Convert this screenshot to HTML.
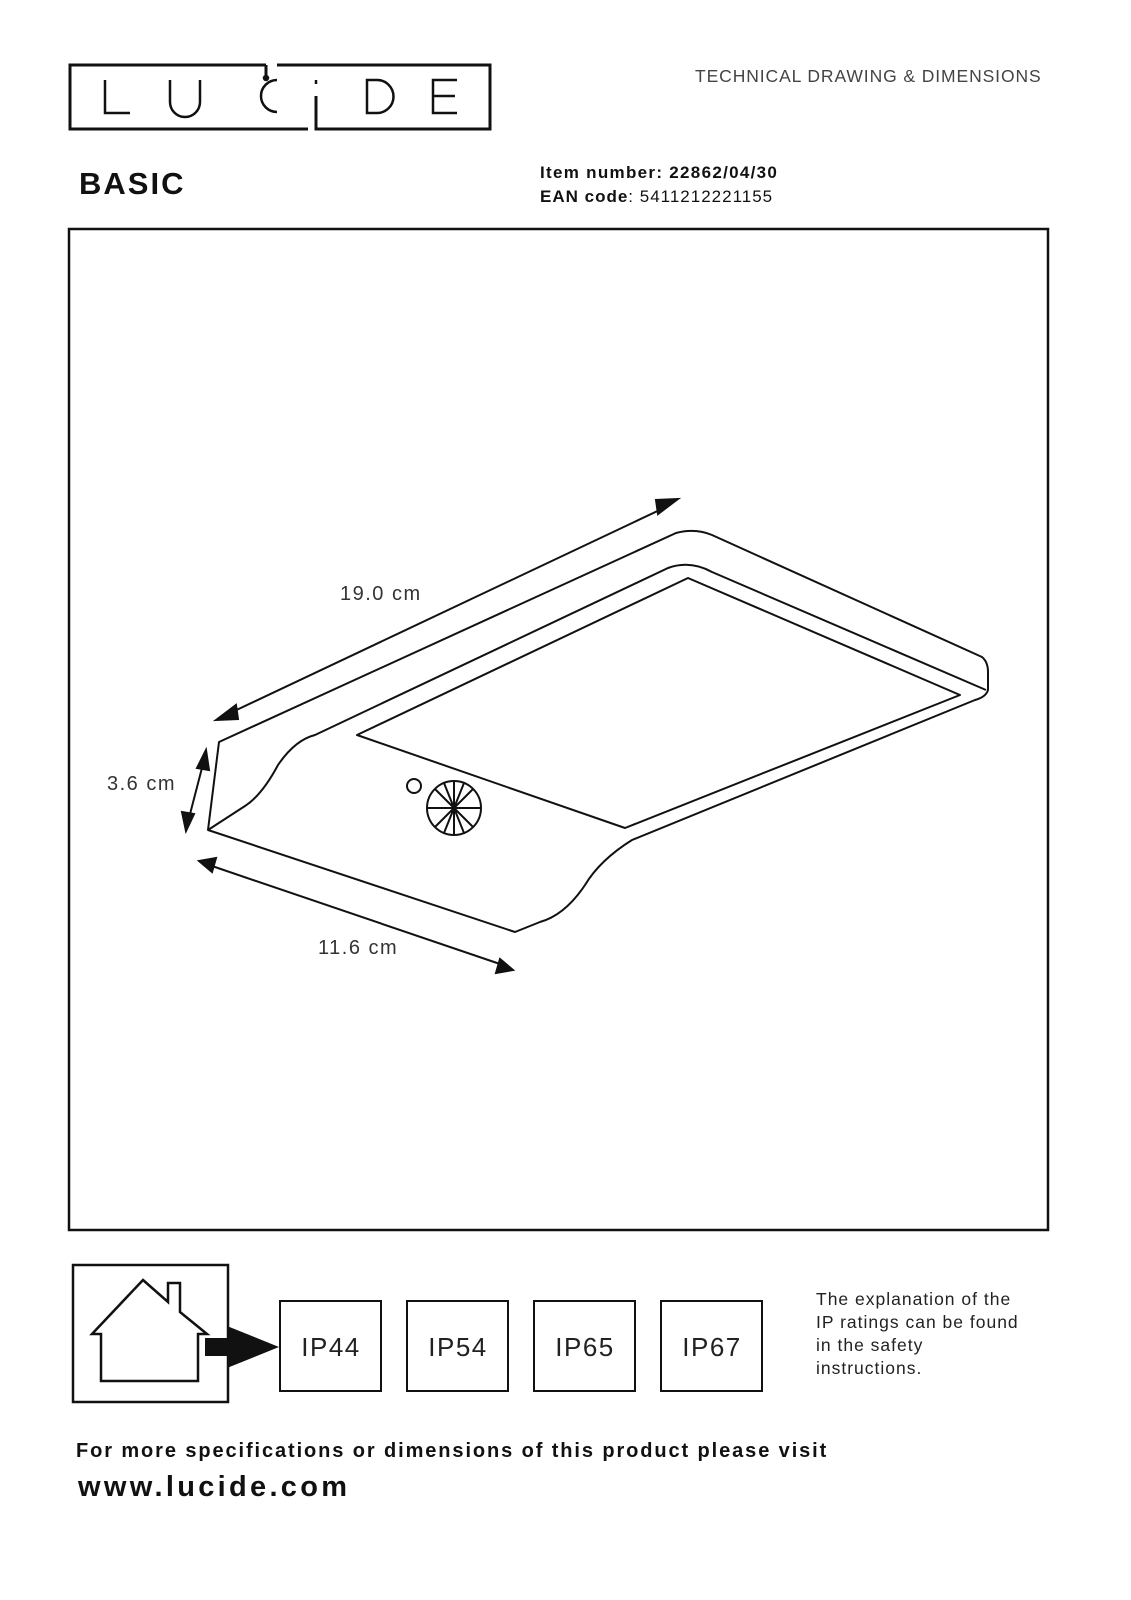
<!DOCTYPE html>
<html><head><meta charset="utf-8"><style>
body{margin:0;background:#fff;}
svg{display:block}
</style></head><body>
<svg width="1131" height="1600" viewBox="0 0 1131 1600" xmlns="http://www.w3.org/2000/svg" font-family="Liberation Sans, sans-serif">
<rect width="1131" height="1600" fill="#fff"/>
<g fill="none" stroke="#111" stroke-width="3">
<path d="M266,65 H70 V129 H308"/>
<path d="M277,65 H490 V129 H316 V96"/>
<path d="M266,65 V75"/>
</g>
<g fill="none" stroke="#111" stroke-width="2.5">
<path d="M105,80 V113 H130"/>
<path d="M170,80 V102 a15,15 0 0 0 30,0 V80"/>
<path d="M277,80 a16,16 0 1 0 0,32"/>
<circle cx="266" cy="78" r="2" fill="#111"/>
<path d="M316,80 V84"/>
<path d="M367,80 V113 H377 a16,16 0 0 0 0,-33 Z"/>
<path d="M457,80 H433 V113 H457 M433,96 H455"/>
</g>
<text x="695" y="82" font-size="17.5" fill="#444" letter-spacing="0.9">TECHNICAL DRAWING &amp; DIMENSIONS</text>
<text x="79" y="194" font-size="31" font-weight="bold" fill="#111" letter-spacing="2">BASIC</text>
<text x="540" y="178" font-size="17" font-weight="bold" fill="#111" letter-spacing="1.3">Item number: 22862/04/30</text>
<text x="540" y="202" font-size="17" fill="#111" letter-spacing="1"><tspan font-weight="bold">EAN code</tspan>: 5411212221155</text>
<rect x="69" y="229" width="979" height="1001" fill="none" stroke="#111" stroke-width="2.5"/>
<g fill="none" stroke="#111" stroke-width="2" stroke-linejoin="round">
<path d="M208,830 L219,742 L676,533 Q695,528 712,535 L982,657 Q988,662 988,672 L988,690 Q986,697 975,700 L632,840 Q600,860 585,885 Q565,915 540,922 L515,932 Z"/>
<path d="M208,830 L245,806 Q262,795 278,765 Q295,740 315,735 L668,568 Q690,560 712,572 L986,690"/>
<path d="M357,735 L688,578 L960,695 L625,828 Z"/>
<circle cx="414" cy="786" r="7"/>
<circle cx="454" cy="808" r="27"/>
<path d="M454,781 V835 M427,808 H481 M435,789 L473,827 M473,789 L435,827 M444,783 L464,833 M464,783 L444,833"/>
</g>
<g stroke="#111" stroke-width="2" fill="#111">
<line x1="228" y1="714" x2="666" y2="507"/>
<path d="M216,720 L236,705 L238,719 Z"/>
<path d="M678,499 L658,514 L656,500 Z"/>
<line x1="203" y1="764" x2="189" y2="818"/>
<path d="M206,750 L197,768 L209,770 Z"/>
<path d="M186,831 L182,812 L194,814 Z"/>
<line x1="212" y1="866" x2="500" y2="964"/>
<path d="M199,861 L216,858 L212,872 Z"/>
<path d="M513,970 L496,973 L500,959 Z"/>
</g>
<g font-size="20" fill="#333" letter-spacing="1.5">
<text x="340" y="600">19.0 cm</text>
<text x="107" y="790">3.6 cm</text>
<text x="318" y="954">11.6 cm</text>
</g>
<rect x="73" y="1265" width="155" height="137" fill="none" stroke="#111" stroke-width="2.5"/>
<path d="M143,1280 L168,1302 V1283 H180 V1312 L207,1334 H198 V1381 H101 V1334 H92 Z" fill="none" stroke="#111" stroke-width="2.5" stroke-linejoin="miter"/>
<rect x="205" y="1338" width="24" height="18" fill="#111"/>
<path d="M227,1326 L279,1347 L227,1368 Z" fill="#111"/>
<g fill="none" stroke="#111" stroke-width="2">
<rect x="280" y="1301" width="101" height="90"/>
<rect x="407" y="1301" width="101" height="90"/>
<rect x="534" y="1301" width="101" height="90"/>
<rect x="661" y="1301" width="101" height="90"/>
</g>
<g font-size="26" fill="#222" text-anchor="middle" letter-spacing="1.5">
<text x="331" y="1356">IP44</text>
<text x="458" y="1356">IP54</text>
<text x="585" y="1356">IP65</text>
<text x="712" y="1356">IP67</text>
</g>
<g font-size="17.5" fill="#222" letter-spacing="1">
<text x="816" y="1305">The explanation of the</text>
<text x="816" y="1328">IP ratings can be found</text>
<text x="816" y="1351">in the safety</text>
<text x="816" y="1374">instructions.</text>
</g>
<text x="76" y="1457" font-size="20" font-weight="bold" fill="#111" letter-spacing="1.9">For more specifications or dimensions of this product please visit</text>
<text x="78" y="1496" font-size="29" font-weight="bold" fill="#111" letter-spacing="3.3">www.lucide.com</text>
</svg>
</body></html>
